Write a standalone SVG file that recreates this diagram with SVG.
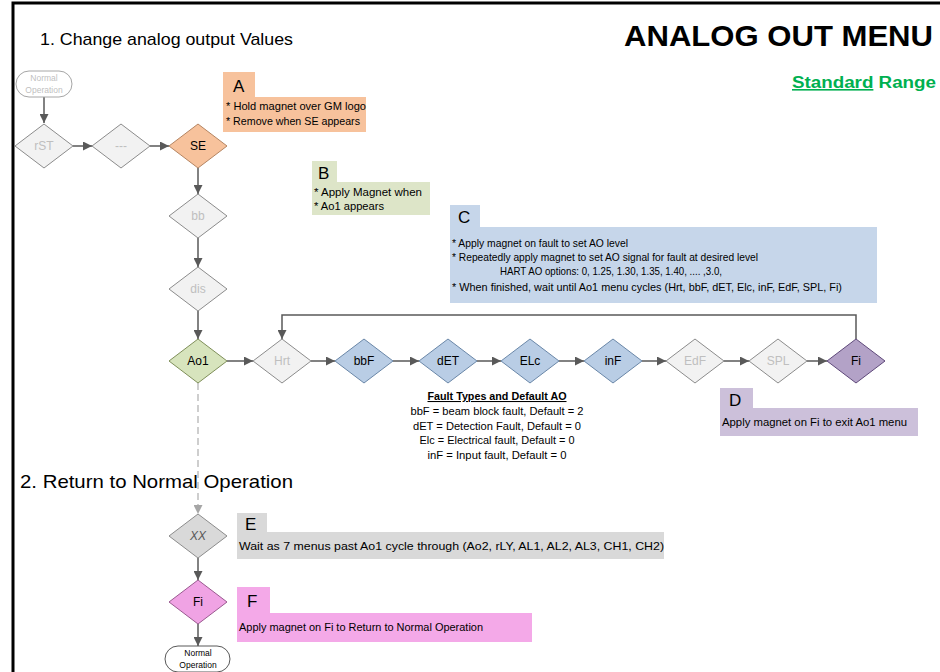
<svg xmlns="http://www.w3.org/2000/svg" width="940" height="672" viewBox="0 0 940 672">
<style>
text{font-family:"Liberation Sans",Arial,sans-serif}
.gd{fill:#F2F2F2;stroke:#8C8C8C;stroke-width:1}
.gt{fill:#BFBFBF;font-size:12px;text-anchor:middle}
.nt{fill:#000;font-size:12px;text-anchor:middle}
.ln{fill:none;stroke:#595959;stroke-width:1.5}
.dl{fill:none;stroke:#BFBFBF;stroke-width:1.5;stroke-dasharray:7,4}
.ct{font-size:10.5px;fill:#000}
.lt{font-size:17px;fill:#000}
.ft{font-size:10.5px;fill:#000;text-anchor:middle}
</style>
<defs>
<marker id="ah" viewBox="0 0 10 10" refX="10" refY="5" markerWidth="9" markerHeight="9" markerUnits="userSpaceOnUse" orient="auto"><path d="M0,0L10,5L0,10z" fill="#595959"/></marker>
<marker id="ahg" viewBox="0 0 10 10" refX="10" refY="5" markerWidth="9" markerHeight="9" markerUnits="userSpaceOnUse" orient="auto"><path d="M0,0L10,5L0,10z" fill="#A6A6A6"/></marker>
<polygon id="dia" points="0,-22 29,0 0,22 -29,0"/>
</defs>
<rect width="940" height="672" fill="#fff"/>
<path d="M13,672V3H940" fill="none" stroke="#000" stroke-width="3"/>
<text x="40" y="45" font-size="17" textLength="253" lengthAdjust="spacingAndGlyphs">1. Change analog output Values</text>
<text x="624" y="46" font-size="30" font-weight="bold" textLength="309" lengthAdjust="spacingAndGlyphs">ANALOG OUT MENU</text>
<text x="792" y="88" font-size="16" font-weight="bold" fill="#00B050" textLength="144" lengthAdjust="spacingAndGlyphs"><tspan text-decoration="underline">Standard</tspan> Range</text>
<text x="20" y="488" font-size="19" textLength="273" lengthAdjust="spacingAndGlyphs">2. Return to Normal Operation</text>

<g id="connectors">
<path class="ln" d="M44,97V123" marker-end="url(#ah)"/>
<path class="ln" d="M73,146H92" marker-end="url(#ah)"/>
<path class="ln" d="M150,146H169" marker-end="url(#ah)"/>
<path class="ln" d="M198,168V194" marker-end="url(#ah)"/>
<path class="ln" d="M198,238V267" marker-end="url(#ah)"/>
<path class="ln" d="M198,311V339" marker-end="url(#ah)"/>
<path class="ln" d="M227,361H253" marker-end="url(#ah)"/>
<path class="ln" d="M311,361H335" marker-end="url(#ah)"/>
<path class="ln" d="M393,361H419" marker-end="url(#ah)"/>
<path class="ln" d="M477,361H501" marker-end="url(#ah)"/>
<path class="ln" d="M559,361H584" marker-end="url(#ah)"/>
<path class="ln" d="M642,361H666" marker-end="url(#ah)"/>
<path class="ln" d="M724,361H749" marker-end="url(#ah)"/>
<path class="ln" d="M807,361H827" marker-end="url(#ah)"/>
<path class="ln" d="M856,339V315H282V339" marker-end="url(#ah)"/>
<path class="dl" d="M198,383V514" marker-end="url(#ahg)"/>
<path class="ln" d="M198,558V580" marker-end="url(#ah)"/>
<path class="ln" d="M198,624V646" marker-end="url(#ah)"/>
</g>

<g id="start">
<rect x="16" y="71" width="56" height="26" rx="13" fill="#fff" stroke="#A6A6A6"/>
<text x="44" y="81" font-size="8.5" fill="#BFBFBF" text-anchor="middle">Normal</text>
<text x="44" y="93" font-size="8.5" fill="#BFBFBF" text-anchor="middle">Operation</text>
</g>
<g id="rST" transform="translate(44,146)"><use href="#dia" class="gd"/><text class="gt" y="4">rST</text></g>
<g id="dash" transform="translate(121,146)"><use href="#dia" class="gd"/><text class="gt" y="4">---</text></g>
<g id="SE" transform="translate(198,146)"><use href="#dia" fill="#F7C29C" stroke="#B58562"/><text class="nt" y="4">SE</text></g>
<g id="bb" transform="translate(198,216)"><use href="#dia" class="gd"/><text class="gt" y="4">bb</text></g>
<g id="dis" transform="translate(198,289)"><use href="#dia" class="gd"/><text class="gt" y="4">dis</text></g>
<g id="Ao1" transform="translate(198,361)"><use href="#dia" fill="#D7E4BD" stroke="#7F8F5A"/><text class="nt" y="4">Ao1</text></g>
<g id="Hrt" transform="translate(282,361)"><use href="#dia" class="gd"/><text class="gt" y="4">Hrt</text></g>
<g id="bbF" transform="translate(364,361)"><use href="#dia" fill="#B9CDE5" stroke="#6A87A8"/><text class="nt" y="4">bbF</text></g>
<g id="dET" transform="translate(448,361)"><use href="#dia" fill="#B9CDE5" stroke="#6A87A8"/><text class="nt" y="4">dET</text></g>
<g id="ELc" transform="translate(530,361)"><use href="#dia" fill="#B9CDE5" stroke="#6A87A8"/><text class="nt" y="4">ELc</text></g>
<g id="inF" transform="translate(613,361)"><use href="#dia" fill="#B9CDE5" stroke="#6A87A8"/><text class="nt" y="4">inF</text></g>
<g id="EdF" transform="translate(695,361)"><use href="#dia" class="gd"/><text class="gt" y="4">EdF</text></g>
<g id="SPL" transform="translate(778,361)"><use href="#dia" class="gd"/><text class="gt" y="4">SPL</text></g>
<g id="Fi1" transform="translate(856,361)"><use href="#dia" fill="#B3A2C7" stroke="#5F497A"/><text class="nt" y="4">Fi</text></g>
<g id="XX" transform="translate(198,536)"><use href="#dia" fill="#D9D9D9" stroke="#8C8C8C"/><text y="4" font-size="12" font-style="italic" fill="#595959" text-anchor="middle">XX</text></g>
<g id="Fi2" transform="translate(198,602)"><use href="#dia" fill="#F0A3E4" stroke="#9A5A90"/><text class="nt" y="4">Fi</text></g>
<g id="end">
<rect x="165" y="646" width="65" height="26" rx="13" fill="#fff" stroke="#595959"/>
<text x="198" y="656" font-size="8.5" fill="#000" text-anchor="middle">Normal</text>
<text x="198" y="668" font-size="8.5" fill="#000" text-anchor="middle">Operation</text>
</g>

<g id="calloutA">
<rect x="223" y="72" width="32" height="25" fill="#F7C29C"/>
<rect x="223" y="97" width="143" height="35" fill="#F7C29C"/>
<text class="lt" x="233" y="92">A</text>
<text class="ct" x="226" y="110" textLength="140" lengthAdjust="spacingAndGlyphs">* Hold magnet over GM logo</text>
<text class="ct" x="226" y="125" textLength="134" lengthAdjust="spacingAndGlyphs">* Remove when SE appears</text>
</g>
<g id="calloutB">
<rect x="312" y="161" width="25" height="21" fill="#DDE5C8"/>
<rect x="312" y="182" width="118" height="33" fill="#DDE5C8"/>
<text class="lt" x="318" y="179">B</text>
<text class="ct" x="314" y="196" textLength="108" lengthAdjust="spacingAndGlyphs">* Apply Magnet when</text>
<text class="ct" x="314" y="210" textLength="70" lengthAdjust="spacingAndGlyphs">* Ao1 appears</text>
</g>
<g id="calloutC">
<rect x="450" y="205" width="30" height="23" fill="#C6D6EA"/>
<rect x="450" y="227" width="427" height="76" fill="#C6D6EA"/>
<text class="lt" x="458" y="223">C</text>
<text class="ct" x="452" y="247" textLength="176" lengthAdjust="spacingAndGlyphs">* Apply magnet on fault to set AO level</text>
<text class="ct" x="452" y="261" textLength="306" lengthAdjust="spacingAndGlyphs">* Repeatedly apply magnet to set AO signal for fault at desired level</text>
<text class="ct" x="500" y="275" textLength="222" lengthAdjust="spacingAndGlyphs">HART AO options: 0, 1.25, 1.30, 1.35, 1.40, .... ,3.0,</text>
<text class="ct" x="452" y="291" textLength="390" lengthAdjust="spacingAndGlyphs">* When finished, wait until Ao1 menu cycles (Hrt, bbF, dET, Elc, inF, EdF, SPL, Fi)</text>
</g>
<g id="faults">
<text class="ft" x="497" y="400" font-weight="bold" text-decoration="underline" textLength="139" lengthAdjust="spacingAndGlyphs">Fault Types and Default AO</text>
<text class="ft" x="497" y="415" textLength="173" lengthAdjust="spacingAndGlyphs">bbF = beam block fault, Default = 2</text>
<text class="ft" x="497" y="430" textLength="168" lengthAdjust="spacingAndGlyphs">dET = Detection Fault, Default = 0</text>
<text class="ft" x="497" y="444" textLength="155" lengthAdjust="spacingAndGlyphs">Elc = Electrical fault, Default = 0</text>
<text class="ft" x="497" y="459" textLength="139" lengthAdjust="spacingAndGlyphs">inF = Input fault, Default = 0</text>
</g>
<g id="calloutD">
<rect x="720" y="388" width="33" height="21" fill="#CCC0DA"/>
<rect x="720" y="408" width="198" height="28" fill="#CCC0DA"/>
<text class="lt" x="729" y="406">D</text>
<text class="ct" x="722" y="426" textLength="185" lengthAdjust="spacingAndGlyphs">Apply magnet on Fi to exit Ao1 menu</text>
</g>
<g id="calloutE">
<rect x="237" y="513" width="30" height="20" fill="#D9D9D9"/>
<rect x="237" y="532" width="427" height="27" fill="#D9D9D9"/>
<text class="lt" x="245" y="530">E</text>
<text class="ct" x="239" y="550" textLength="425" lengthAdjust="spacingAndGlyphs">Wait as 7 menus past Ao1 cycle through (Ao2, rLY, AL1, AL2, AL3, CH1, CH2)</text>
</g>
<g id="calloutF">
<rect x="237" y="587" width="33" height="27" fill="#F4A9E8"/>
<rect x="237" y="613" width="295" height="29" fill="#F4A9E8"/>
<text class="lt" x="247" y="607">F</text>
<text class="ct" x="239" y="631" textLength="244" lengthAdjust="spacingAndGlyphs">Apply magnet on Fi to Return to Normal Operation</text>
</g>
</svg>
